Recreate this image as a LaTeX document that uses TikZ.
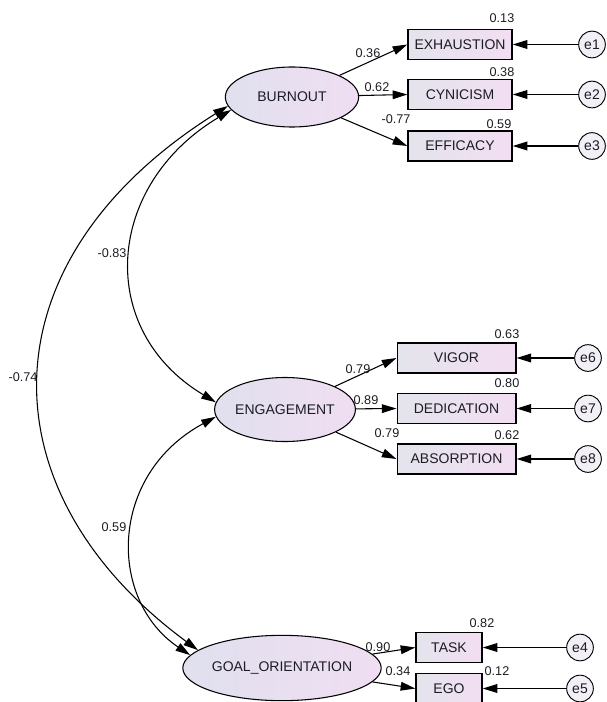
\documentclass[tikz,border=0pt]{standalone}
\usepackage{fontspec}
\setmainfont{Liberation Sans}
\usetikzlibrary{arrows.meta,shapes.geometric}
\definecolor{latL}{RGB}{224,224,238}
\definecolor{latR}{RGB}{240,222,242}
\definecolor{obsL}{RGB}{228,228,236}
\definecolor{obsR}{RGB}{242,222,242}
\definecolor{errfill}{RGB}{242,240,246}
\definecolor{ink}{RGB}{28,28,36}
\begin{document}
\begin{tikzpicture}[x=0.75pt,y=-0.75pt,>={Triangle[length=11pt,width=6.5pt]},
    latent/.style={ellipse,draw,line width=0.8pt,left color=latL,right color=latR,
      inner sep=0pt,text=ink,font=\fontsize{10.5}{12}\selectfont},
    obs/.style={rectangle,draw,line width=1pt,left color=obsL,right color=obsR,
      minimum height=22.5pt,inner sep=0pt,text=ink,font=\fontsize{10.5}{12}\selectfont},
    err/.style={circle,draw,line width=0.7pt,fill=errfill,minimum size=20pt,
      inner sep=0pt,text=ink,font=\fontsize{10.5}{12}\selectfont},
    coef/.style={inner sep=0pt,text=ink,font=\fontsize{9.5}{10}\selectfont},
    path/.style={->,line width=0.8pt},
    errpath/.style={->,line width=1.1pt},
    cov/.style={<->,line width=0.8pt}]
\useasboundingbox (0,0) rectangle (606,702);
% burnout begin
\node[latent,minimum width=100pt,minimum height=45pt] (burnout) at (292,97) {BURNOUT};
\node[obs,minimum width=78pt] (exhaustion) at (460,44.5) {EXHAUSTION};
\node[obs,minimum width=78pt] (cynicism) at (460,94.5) {CYNICISM};
\node[obs,minimum width=78pt] (efficacy) at (460,146) {EFFICACY};
\node[err] (e1) at (592,44.5) {e1};
\node[err] (e2) at (592,94.5) {e2};
\node[err] (e3) at (592,146) {e3};
\draw[path] (burnout) -- (exhaustion.west);
\draw[path] (burnout) -- (cynicism.west);
\draw[path] (burnout) -- (efficacy.west);
\draw[errpath] (e1) -- (exhaustion);
\draw[errpath] (e2) -- (cynicism);
\draw[errpath] (e3) -- (efficacy);
\node[coef] (l036) at (368,53) {0.36};
\node[coef] (l062) at (377,87) {0.62};
\node[coef] (l077) at (396,119) {-0.77};
\node[coef] (r013) at (502,18) {0.13};
\node[coef] (r038) at (502,72) {0.38};
\node[coef] (r059) at (499,124) {0.59};
% burnout end
% engagement begin
\node[latent,minimum width=97.5pt,minimum height=48pt] (engagement) at (285,409.5) {ENGAGEMENT};
\node[obs,minimum width=89pt] (vigor) at (456.5,358) {VIGOR};
\node[obs,minimum width=89pt] (dedication) at (456.5,408.5) {DEDICATION};
\node[obs,minimum width=89pt] (absorption) at (456.5,459) {ABSORPTION};
\node[err] (e6) at (588,358) {e6};
\node[err] (e7) at (588,408.5) {e7};
\node[err] (e8) at (588,459) {e8};
\draw[path] (engagement) -- (vigor.west);
\draw[path] (engagement) -- (dedication.west);
\draw[path] (engagement) -- (absorption.west);
\draw[errpath] (e6) -- (vigor);
\draw[errpath] (e7) -- (dedication);
\draw[errpath] (e8) -- (absorption);
\node[coef] (l079a) at (358,369) {0.79};
\node[coef] (l089) at (366,400) {0.89};
\node[coef] (l079b) at (387,433) {0.79};
\node[coef] (r063) at (507,334) {0.63};
\node[coef] (r080) at (507,383) {0.80};
\node[coef] (r062) at (507,435) {0.62};
% engagement end
% goal orientation begin
\node[latent,minimum width=122pt,minimum height=49pt] (goal) at (282,668) {GOAL\_ORIENTATION};
\node[obs,minimum width=49.5pt] (task) at (449,647.5) {TASK};
\node[obs,minimum width=49.5pt] (ego) at (449,688.5) {EGO};
\node[err] (e4) at (580,647.5) {e4};
\node[err] (e5) at (580,688.5) {e5};
\draw[path] (goal) -- (task.west);
\draw[path] (goal) -- (ego.west);
\draw[errpath] (e4) -- (task);
\draw[errpath] (e5) -- (ego);
\node[coef] (l090) at (378,647) {0.90};
\node[coef] (l034) at (398,671) {0.34};
\node[coef] (r082) at (482,623) {0.82};
\node[coef] (r012) at (497,671) {0.12};
% goal orientation end
% covariances
\draw[cov] (burnout.192) .. controls (105,185) and (95,330) .. (engagement.174);
\draw[cov] (burnout.188) .. controls (-18,260) and (-18,491) .. (goal.168);
\draw[cov] (engagement.186) .. controls (108,475) and (108,600) .. (goal.172);
\node[coef] (c083) at (112,253) {-0.83};
\node[coef] (c074) at (23,377) {-0.74};
\node[coef] (c059) at (114,527) {0.59};
\end{tikzpicture}
\end{document}
